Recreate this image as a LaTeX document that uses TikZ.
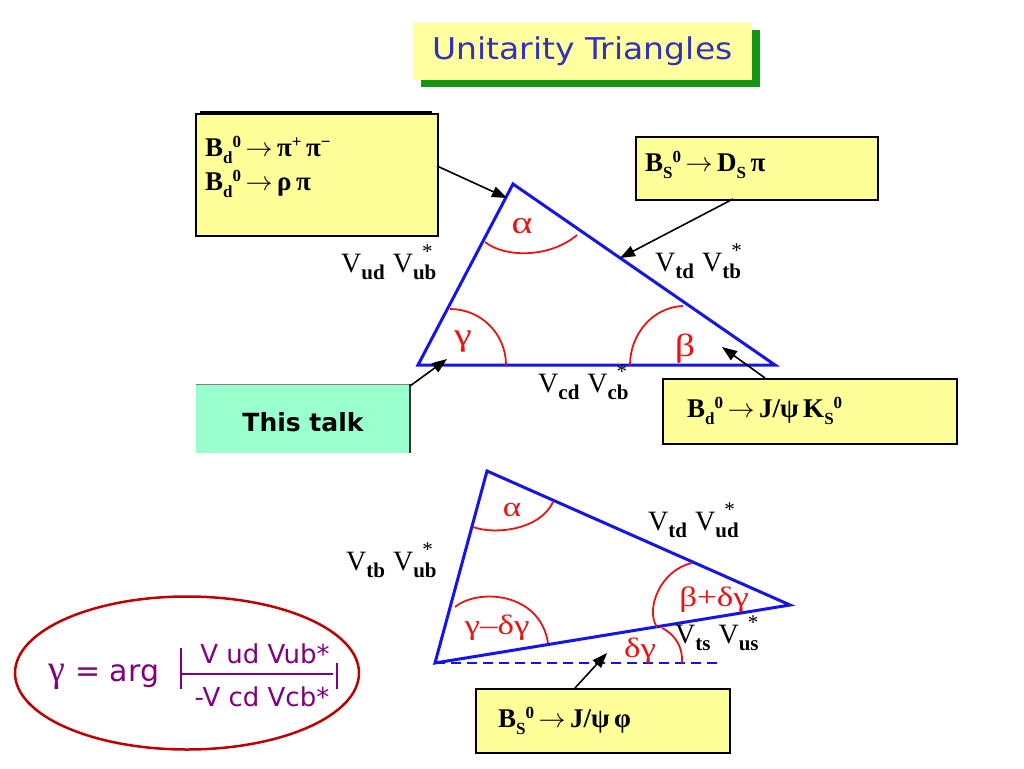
\documentclass[tikz,border=0pt]{standalone}
\usepackage{fix-cm}
\usepackage{fontspec}
\setmainfont{Liberation Serif}
\newfontfamily\titlefont[FakeStretch=1.1]{DejaVu Sans}
\newfontfamily\comicfont{DejaVu Sans}
\newfontfamily\greekfont[FakeStretch=1.25]{Liberation Serif}
\usetikzlibrary{arrows.meta,shadows,shapes.geometric}
\definecolor{byellow}{RGB}{255,255,153}
\definecolor{tyellow}{RGB}{255,255,160}
\definecolor{tgreen}{RGB}{20,150,20}
\definecolor{tblue}{RGB}{50,50,190}
\definecolor{mint}{RGB}{153,255,204}
\definecolor{tblu}{RGB}{20,20,235}
\definecolor{tred}{RGB}{235,20,20}
\definecolor{ellred}{RGB}{190,0,0}
\definecolor{purp}{RGB}{128,0,128}
% box texts: sequential sub/superscripts
\newcommand\subb[1]{\raisebox{-7pt}{\fontsize{17}{17}\selectfont #1}}
\newcommand\supb[1]{\raisebox{9pt}{\fontsize{17}{17}\selectfont #1}}
% triangle side labels
\newcommand\VA[1]{V\raisebox{-7pt}{\fontsize{21}{21}\selectfont\bfseries #1}}
\newcommand\VB[1]{V\makebox[0pt][l]{\hspace{9pt}\raisebox{14pt}{\fontsize{21}{21}\selectfont *}}\raisebox{-7pt}{\fontsize{21}{21}\selectfont\bfseries #1}}
\newcommand\VV[2]{\VA{#1}\hspace{8pt}\VB{#2}}
\tikzset{
  titlebox/.style={fill=tyellow, minimum width=339pt, minimum height=57pt, inner sep=0pt,
    text=tblue, font=\titlefont\fontsize{30}{36}\selectfont,
    drop shadow={shadow xshift=8pt, shadow yshift=-7pt, fill=tgreen, opacity=1}},
  ybox/.style={draw=black, line width=2pt, fill=byellow, anchor=north west, inner sep=0pt},
  btext/.style={anchor=base west, inner sep=0pt, font=\fontsize{27}{30}\selectfont\bfseries},
  vlab/.style={anchor=base west, inner sep=0pt, font=\fontsize{28}{32}\selectfont},
  glab/.style={inner sep=0pt, text=tred, font=\greekfont\fontsize{32}{34}\selectfont},
  glab2/.style={inner sep=0pt, text=tred, font=\greekfont\fontsize{28}{30}\selectfont},
  tri/.style={draw=tblu, line width=3pt, line join=miter},
  arc/.style={draw=tred, line width=1.8pt},
  arr/.style={-{Triangle[length=15pt,width=11pt]}, line width=1.6pt, black},
  ftext/.style={inner sep=0pt, text=purp, font=\comicfont\fontsize{26}{30}\selectfont}
}
\begin{document}
\begin{tikzpicture}[x=1pt,y=-1pt]
\fill[white] (0,0) rectangle (1024,768);
\useasboundingbox (0,0) rectangle (1024,768);

% title
\node[titlebox] (title) at (582.5,51.5) {Unitarity Triangles};

% ---------- upper triangle ----------
\coordinate (A1) at (513,184);
\coordinate (B1) at (418,365);
\coordinate (C1) at (775,365);
\draw[tri] (B1) -- (A1) -- (C1) -- cycle;

\draw[arc] (485,242) .. controls (505,258) and (550,258) .. (577,235);
\draw[arc] (450,309) .. controls (481,309) and (506,334) .. (506,365);
\draw[arc] (630,365) .. controls (630,334) and (653,307) .. (683,306);
\node[glab] (alpha1) at (522,226) {α};
\node[glab] (gamma1) at (463,342) {γ};
\node[glab] (beta1) at (685,349) {β};

\node[vlab] (Vub) at (341,272) {\VV{ud}{ub}};
\node[vlab] (Vtb) at (655,271) {\VV{td}{tb}};
\node[vlab] (Vcb) at (538,392) {\VV{cd}{cb}};

% box B_d -> pi pi
\node[ybox, minimum width=242pt, minimum height=122pt] (box1) at (195,113) {};
\draw[line width=4pt] ([xshift=5pt]box1.north west) -- ([xshift=-7pt]box1.north east);
\node[btext] (l1) at (205,156) {B\subb{d}\supb{0}\,$\rightarrow$\,π\supb{+}\,π\supb{−}};
\node[btext] (l2) at (205,190) {B\subb{d}\supb{0}\,$\rightarrow$\,ρ\,π};
\coordinate (s1) at (437,166);
\coordinate (e1) at (507,198);
\draw[arr] (s1) -- (e1);

% box B_s -> D_s pi
\node[ybox, minimum width=242pt, minimum height=63pt] (box2) at (635,136) {};
\node[btext] (l3) at (645,171) {B\subb{S}\supb{0}\,$\rightarrow$\,D\subb{S}\,π};
\coordinate (s2) at (733,199);
\coordinate (e2) at (620,258);
\draw[arr] (s2) -- (e2);

% box B_d -> J/psi K_S
\node[ybox, minimum width=294pt, minimum height=65pt] (box3) at (662,378) {};
\node[btext] (l4) at (687,417) {B\subb{d}\supb{0}\,$\rightarrow$\,J/ψ\,K\subb{S}\supb{0}};
\coordinate (s3) at (765,378);
\coordinate (e3) at (722,347);
\draw[arr] (s3) -- (e3);

% This talk
\fill[mint] (196,384) rectangle (410,453);
\draw[gray, line width=0.8pt] (196,384) -- (410,384);
\draw[black!80, line width=1.5pt] (410,384) -- (410,453);
\node[inner sep=0pt, font=\comicfont\fontsize{25}{28}\selectfont\bfseries] (talk) at (303,422) {This talk};
\coordinate (s4) at (410,386);
\coordinate (e4) at (447,359);
\draw[arr] (s4) -- (e4);

% ---------- lower triangle ----------
\coordinate (A2) at (487,471);
\coordinate (B2) at (435,663);
\coordinate (C2) at (790,605);
\draw[tri] (B2) -- (A2) -- (C2) -- cycle;
\draw[draw=tblu, line width=2pt, dash pattern=on 10pt off 6pt] (B2) -- (720,663);

\draw[arc] (473,527) .. controls (495,535) and (540,530) .. (553,502);
\draw[arc] (455,607) .. controls (478,588) and (540,592) .. (548,643);
\draw[arc] (692,563) .. controls (660,570) and (645,610) .. (657,627);
\draw[arc] (662,628) .. controls (676,635) and (683,648) .. (682,663);
\node[glab2] (alpha2) at (512,510) {α};
\node[glab2] (gd) at (497,628) {γ–δγ};
\node[glab2] (bd) at (714,600) {β+δγ};
\node[glab2] (dg) at (640,651) {δγ};

\node[vlab] (Vud) at (648,530) {\VV{td}{ud}};
\node[vlab] (Vub2) at (346,570) {\VV{tb}{ub}};
\node[vlab] (Vus) at (675,643) {\VV{ts}{us}};

% box B_s -> J/psi phi
\node[ybox, minimum width=254pt, minimum height=64pt] (box4) at (475,688) {};
\node[btext] (l5) at (498,727) {B\subb{S}\supb{0}\,$\rightarrow$\,J/ψ\,φ};
\coordinate (s5) at (575,688);
\coordinate (e5) at (607,653);
\draw[arr] (s5) -- (e5);

% formula ellipse
\node[draw=ellred, line width=2.5pt, ellipse, minimum width=344pt, minimum height=153pt, inner sep=0pt] (ell) at (187,673) {};
\node[inner sep=0pt, anchor=base, text=purp, font=\fontsize{38}{40}\selectfont] (g) at (57,681) {γ};
\node[inner sep=0pt, anchor=base west, text=purp, font=\comicfont\fontsize{30}{34}\selectfont] (arg) at (75,681) {= arg};
\node[ftext, anchor=base] (num) at (265,663) {V ud Vub*};
\node[ftext, anchor=base] (den) at (262,706) {-V cd Vcb*};
\draw[purp, line width=1.2pt] (182,674) -- (333,674);
\draw[purp, line width=2.2pt] (181,648) -- (181,689);
\draw[purp, line width=2.2pt] (337,663) -- (337,689);
\end{tikzpicture}
\end{document}
